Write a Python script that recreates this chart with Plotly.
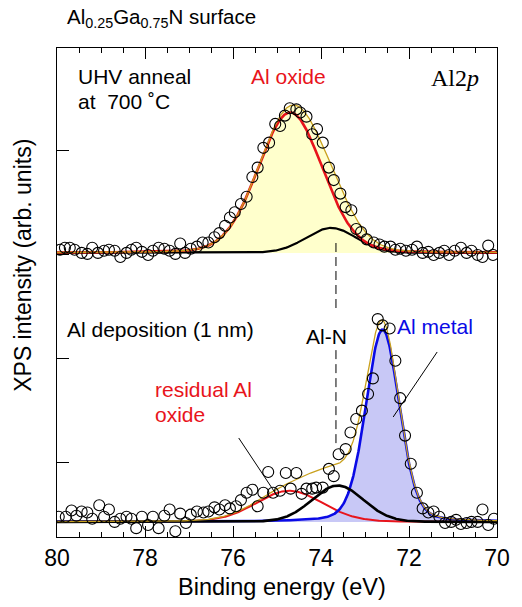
import numpy as np
import plotly.graph_objects as go

# ---------------- data ----------------
# Upper spectrum: UHV anneal at 700 C
top_energy = [79.93, 79.82, 79.71, 79.60, 79.44, 79.31, 79.20, 79.07, 78.93, 78.82,
              78.69, 78.56, 78.42, 78.31, 78.20, 78.07, 77.93, 77.82, 77.69, 77.56,
              77.44, 77.31, 77.20, 77.09, 76.96, 76.82, 76.69, 76.56, 76.42, 76.31,
              76.18, 76.07, 75.96, 75.82, 75.69, 75.56, 75.44, 75.31, 75.18, 75.04,
              74.93, 74.82, 74.71, 74.56, 74.47, 74.33, 74.20, 74.09, 73.96, 73.82,
              73.71, 73.56, 73.44, 73.31, 73.20, 73.09, 72.96, 72.80, 72.67, 72.56,
              72.42, 72.31, 72.20, 72.07, 71.93, 71.82, 71.69, 71.56, 71.44, 71.31,
              71.20, 71.09, 70.96, 70.82, 70.69, 70.58, 70.44, 70.33, 70.20, 70.09]
top_counts = [0.03, 0.05, 0.05, 0.03, 0.00, -0.01, 0.05, 0.00, 0.02, 0.03,
              0.02, -0.04, 0.00, 0.03, 0.05, 0.01, -0.02, 0.02, 0.05, 0.04,
              0.02, -0.01, 0.09, 0.00, 0.04, 0.06, 0.10, 0.10, 0.15, 0.19,
              0.26, 0.34, 0.39, 0.47, 0.54, 0.73, 0.82, 1.01, 1.06, 1.24,
              1.22, 1.32, 1.39, 1.38, 1.35, 1.31, 1.14, 1.19, 1.06, 0.82,
              0.70, 0.57, 0.44, 0.41, 0.23, 0.20, 0.13, 0.10, 0.08, 0.06,
              0.06, 0.03, 0.04, 0.02, 0.03, 0.06, 0.00, 0.01, -0.02, 0.00,
              0.02, -0.02, 0.02, 0.05, 0.00, 0.02, -0.02, -0.04, 0.07, -0.02]

# Lower spectrum: Al deposition (1 nm)
bot_energy = [79.96, 79.80, 79.67, 79.56, 79.44, 79.31, 79.20, 79.04, 78.93, 78.82,
              78.69, 78.56, 78.42, 78.31, 78.20, 78.07, 77.93, 77.82, 77.69, 77.56,
              77.44, 77.31, 77.20, 77.07, 76.96, 76.82, 76.67, 76.56, 76.42, 76.31,
              76.18, 76.07, 75.93, 75.82, 75.69, 75.56, 75.44, 75.31, 75.20, 75.09,
              74.93, 74.80, 74.69, 74.56, 74.44, 74.33, 74.20, 74.11, 73.96, 73.82,
              73.71, 73.60, 73.44, 73.33, 73.20, 73.07, 72.93, 72.82, 72.71, 72.60,
              72.44, 72.31, 72.20, 72.09, 71.96, 71.82, 71.69, 71.56, 71.44, 71.31,
              71.18, 71.04, 70.93, 70.82, 70.69, 70.58, 70.44, 70.33, 70.20, 70.07]
bot_counts = [0.05, 0.05, 0.11, 0.06, 0.10, 0.09, 0.03, 0.16, 0.05, 0.12,
              0.00, 0.03, 0.05, 0.03, -0.06, 0.05, -0.03, 0.05, -0.06, 0.06,
              0.12, -0.09, 0.08, -0.01, 0.07, 0.10, 0.09, 0.10, 0.14, 0.12,
              0.16, 0.13, 0.15, 0.21, 0.28, 0.31, 0.15, 0.28, 0.48, 0.28,
              0.30, 0.47, 0.32, 0.47, 0.27, 0.32, 0.32, 0.33, 0.33, 0.51,
              0.44, 0.65, 0.70, 0.86, 0.99, 1.07, 1.23, 1.38, 1.95, 1.89,
              1.86, 1.55, 1.19, 0.83, 0.56, 0.28, 0.13, 0.09, 0.10, 0.05,
              -0.01, 0.00, 0.02, -0.02, -0.01, 0.00, 0.00, 0.12, -0.03, 0.03]

# Fitted components (pseudo-Voigt): centre (eV), FWHM (eV), height, Lorentz fraction
top_comp_names = ["Al oxide", "Al-N"]
top_centers = [74.70, 73.77]
top_fwhm = [1.72, 1.35]
top_heights = [1.35, 0.24]
top_eta = [0.10, 0.05]

bot_comp_names = ["residual Al oxide", "Al-N", "Al metal"]
bot_centers = [74.72, 73.62, 72.60]
bot_fwhm = [1.78, 1.38, 0.90]
bot_heights = [0.30, 0.35, 1.85]
bot_eta = [0.10, 0.05, 0.20]

top_offset = 3.02
bot_offset = 0.433
al_n_mark = 73.66
y_tick_vals = [1, 2, 3, 4]

# ---------------- helpers ----------------
RED = "#E8141B"
BLUE = "#0A0AE6"
GOLD = "#C9A11E"
YELLOW_FILL = "#FFFFCC"
LAV_FILL = "#C8C8F6"
FONT = "Liberation Sans, Arial, sans-serif"

E = np.linspace(80, 70, 801)


def pvoigt(x, c, w, h, eta):
    u = (x - c) / w
    g = np.exp(-4 * np.log(2) * u ** 2)
    l = 1.0 / (1.0 + 4 * u ** 2)
    return h * ((1 - eta) * g + eta * l)


top_parts = [pvoigt(E, c, w, h, n) for c, w, h, n in zip(top_centers, top_fwhm, top_heights, top_eta)]
bot_parts = [pvoigt(E, c, w, h, n) for c, w, h, n in zip(bot_centers, bot_fwhm, bot_heights, bot_eta)]
top_env = np.sum(top_parts, axis=0)
bot_env = np.sum(bot_parts, axis=0)

fig = go.Figure()

# --- upper spectrum ---
fig.add_trace(go.Scatter(x=E, y=np.full_like(E, top_offset), mode="lines",
                         line=dict(width=0, color="rgba(0,0,0,0)"), showlegend=False, hoverinfo="skip"))
fig.add_trace(go.Scatter(x=E, y=top_env + top_offset, mode="lines", fill="tonexty",
                         fillcolor=YELLOW_FILL, line=dict(width=0, color="rgba(0,0,0,0)"),
                         showlegend=False, hoverinfo="skip"))
fig.add_trace(go.Scatter(x=E, y=top_parts[1] + top_offset, mode="lines",
                         line=dict(color="black", width=2.2), name=top_comp_names[1], showlegend=False))
fig.add_trace(go.Scatter(x=E, y=top_parts[0] + top_offset, mode="lines",
                         line=dict(color=RED, width=2.6), name=top_comp_names[0], showlegend=False))
fig.add_trace(go.Scatter(x=E, y=top_env + top_offset, mode="lines",
                         line=dict(color=GOLD, width=1.3), name="envelope", showlegend=False))
fig.add_trace(go.Scatter(x=top_energy, y=np.array(top_counts) + top_offset, mode="markers",
                         marker=dict(symbol="circle-open", size=11, color="black", line=dict(width=1.1)),
                         showlegend=False))

# --- lower spectrum ---
fig.add_trace(go.Scatter(x=E, y=np.full_like(E, bot_offset), mode="lines",
                         line=dict(width=0, color="rgba(0,0,0,0)"), showlegend=False, hoverinfo="skip"))
fig.add_trace(go.Scatter(x=E, y=bot_parts[2] + bot_offset, mode="lines", fill="tonexty",
                         fillcolor=LAV_FILL, line=dict(width=0, color="rgba(0,0,0,0)"),
                         showlegend=False, hoverinfo="skip"))
fig.add_trace(go.Scatter(x=E, y=bot_parts[0] + bot_offset, mode="lines",
                         line=dict(color=RED, width=2.0), name=bot_comp_names[0], showlegend=False))
fig.add_trace(go.Scatter(x=E, y=bot_parts[2] + bot_offset, mode="lines",
                         line=dict(color=BLUE, width=2.6), name=bot_comp_names[2], showlegend=False))
fig.add_trace(go.Scatter(x=E, y=bot_parts[1] + bot_offset, mode="lines",
                         line=dict(color="black", width=2.6), name=bot_comp_names[1], showlegend=False))
fig.add_trace(go.Scatter(x=E, y=bot_env + bot_offset, mode="lines",
                         line=dict(color=GOLD, width=1.3), name="envelope", showlegend=False))
fig.add_trace(go.Scatter(x=bot_energy, y=np.array(bot_counts) + bot_offset, mode="markers",
                         marker=dict(symbol="circle-open", size=11, color="black", line=dict(width=1.1)),
                         showlegend=False))

# --- Al-N marker (dashed, interrupted by the label) ---
for y0, y1 in [(3.115, 2.47), (2.085, 1.154)]:
    fig.add_shape(type="line", x0=al_n_mark, x1=al_n_mark, y0=y0, y1=y1, xref="x", yref="y",
                  line=dict(color="black", width=1, dash="9px,5px"))

# pointer lines
fig.add_shape(type="line", x0=75.87, y0=1.24, x1=74.98, y1=0.673, xref="x", yref="y",
              line=dict(color="black", width=1))
fig.add_shape(type="line", x0=71.36, y0=2.067, x1=72.36, y1=1.442, xref="x", yref="y",
              line=dict(color="black", width=1))

ann = []


def txt(x, y, s, color="black", size=21, xanchor="left", family=FONT, xref="x", yref="y", **kw):
    ann.append(dict(x=x, y=y, text=s, showarrow=False, xref=xref, yref=yref, xanchor=xanchor,
                    yanchor="middle", font=dict(family=family, size=size, color=color), **kw))


txt(79.56, 4.712, "UHV anneal")
txt(79.56, 4.471, "at\u00a0\u00a0700 \u02daC")
txt(74.73, 4.712, "Al oxide", color=RED, xanchor="center")
txt(70.96, 4.70, "Al2<i>p</i>", xanchor="center", size=24, family="Liberation Serif, Times New Roman, serif")
txt(79.82, 2.288, "Al deposition (1 nm)")
txt(73.87, 2.212, "Al-N", xanchor="center")
txt(71.40, 2.308, "Al metal", color=BLUE, xanchor="center")
txt(77.82, 1.702, "residual Al", color=RED)
txt(77.82, 1.462, "oxide", color=RED)

# titles
txt(0.018, 1.061, "Al<sub>0.25</sub>Ga<sub>0.75</sub>N surface", size=20.5, xref="paper", yref="paper")
txt(-0.078, 0.556, "XPS intensity (arb. units)", size=23, xanchor="center", xref="paper", yref="paper",
    textangle=-90)
txt(0.511, -0.102, "Binding energy (eV)", size=23.5, xanchor="center", xref="paper", yref="paper")

fig.update_layout(
    width=522, height=607,
    margin=dict(l=57, r=15, t=48, b=70),
    paper_bgcolor="white", plot_bgcolor="white",
    font=dict(family=FONT, color="black"),
    annotations=ann,
    xaxis=dict(range=[80, 70], tick0=70, dtick=2, ticks="inside", ticklen=11, tickwidth=1,
               tickcolor="black", showline=True, linecolor="black", linewidth=1, mirror="allticks",
               showgrid=False, zeroline=False, tickfont=dict(size=23, family=FONT),
               minor=dict(dtick=0.5, ticks="inside", ticklen=5, tickcolor="black", showgrid=False)),
    yaxis=dict(range=[0.288, 4.99], tickvals=y_tick_vals, ticks="inside", ticklen=12, tickwidth=1,
               tickcolor="black", showticklabels=False, showline=True, linecolor="black", linewidth=1,
               mirror=True, showgrid=False, zeroline=False),
)

fig.write_html("out.html")
